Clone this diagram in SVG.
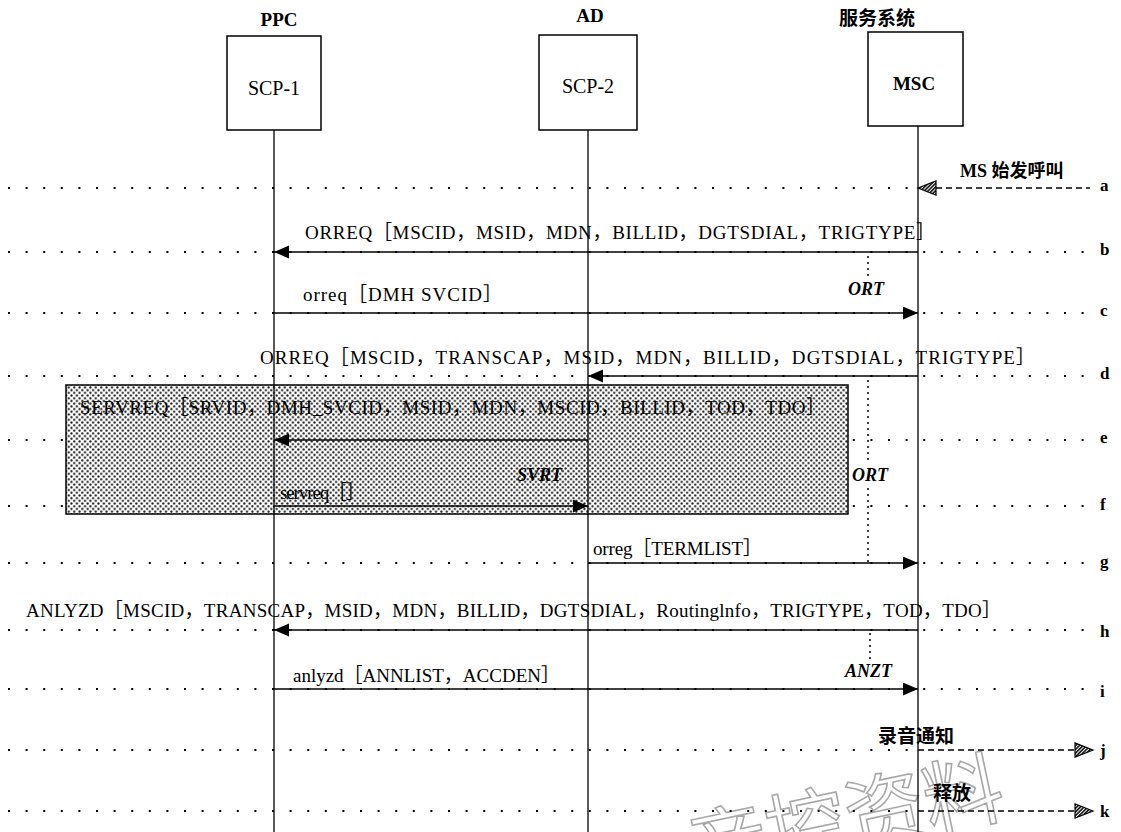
<svg xmlns="http://www.w3.org/2000/svg" width="1121" height="832" viewBox="0 0 1121 832">
<style>
.t{font-family:"Liberation Serif","Noto Sans CJK SC",serif;fill:#000}
.m{font-size:19px}
.cjk{font-family:"Noto Sans CJK SC",sans-serif;fill:#000}
.it{font-style:italic;font-weight:bold;font-size:18px}
.row{font-size:17px;font-weight:bold}
.ttl{font-size:19px;font-weight:bold}
.box{fill:#fff;stroke:#000;stroke-width:1.5}
.life{stroke:#000;stroke-width:1.3;fill:none}
.dot{stroke:#000;stroke-width:2;stroke-dasharray:2 15.6;fill:none}
.vdot{stroke:#000;stroke-width:1.5;stroke-dasharray:2 4;fill:none}
.dash{stroke:#000;stroke-width:1.3;stroke-dasharray:6 4;fill:none}
.msg{stroke:#000;stroke-width:1.6;fill:none;marker-end:url(#ah)}
.hh{fill:url(#hatch);stroke:#000;stroke-width:1.2}
</style>
<defs>
<marker id="ah" markerUnits="userSpaceOnUse" markerWidth="16" markerHeight="14" refX="15" refY="6.5" orient="auto">
<path d="M0,0 L15,6.5 L0,13 Z" fill="#000"/>
</marker>
<pattern id="hatch" patternUnits="userSpaceOnUse" width="2.6" height="2.6" patternTransform="rotate(45)">
<rect width="2.6" height="2.6" fill="#fff"/>
<line x1="0.8" y1="0" x2="0.8" y2="2.6" stroke="#000" stroke-width="1.5"/>
</pattern>
<pattern id="dots" patternUnits="userSpaceOnUse" width="5.4" height="5.4">
<rect width="5.4" height="5.4" fill="#fff"/>
<circle cx="1.3" cy="1.3" r="1.1" fill="#111"/>
<circle cx="4" cy="4" r="1.1" fill="#111"/>
</pattern>
</defs>
<rect width="1121" height="832" fill="#fff"/>

<!-- watermark -->
<text class="cjk" x="1008" y="814" text-anchor="end" font-size="80" stroke="#a8a8a8" stroke-width="1.6" style="fill:none" transform="rotate(-12 1008 814)">音控资料</text>

<!-- row guide dotted lines -->
<g id="rows">
<line class="dot" x1="8" y1="188" x2="910" y2="188"/>
<line class="dot" x1="8" y1="252" x2="1090" y2="252"/>
<line class="dot" x1="8" y1="313" x2="1090" y2="313"/>
<line class="dot" x1="8" y1="376" x2="1090" y2="376"/>
<line class="dot" x1="8" y1="440" x2="1090" y2="440"/>
<line class="dot" x1="8" y1="506" x2="1090" y2="506"/>
<line class="dot" x1="8" y1="563" x2="1090" y2="563"/>
<line class="dot" x1="8" y1="630" x2="1090" y2="630"/>
<line class="dot" x1="8" y1="689" x2="1090" y2="689"/>
<line class="dot" x1="8" y1="750" x2="918" y2="750"/>
<line class="dot" x1="8" y1="811" x2="918" y2="811"/>
</g>

<!-- shaded region -->
<g id="region">
<rect x="66" y="385" width="782" height="129" fill="url(#dots)" stroke="#000" stroke-width="1.5"/>
</g>

<!-- nodes -->
<g id="ppc">
<text class="t ttl" x="279" y="26" text-anchor="middle">PPC</text>
<rect class="box" x="227" y="36" width="94" height="94"/>
<text class="t" x="274" y="95" font-size="20" text-anchor="middle">SCP-1</text>
<line class="life" x1="274" y1="130" x2="274" y2="832"/>
</g>
<g id="ad">
<text class="t ttl" x="590" y="22" text-anchor="middle">AD</text>
<rect class="box" x="539" y="35" width="98" height="95"/>
<text class="t" x="588" y="93" font-size="20" text-anchor="middle">SCP-2</text>
<line class="life" x1="588" y1="130" x2="588" y2="832"/>
</g>
<g id="msc">
<text class="cjk" x="877" y="25" font-size="19" font-weight="bold" text-anchor="middle">服务系统</text>
<rect class="box" x="868" y="32" width="95" height="94"/>
<text class="t" x="914" y="90" font-size="19" font-weight="bold" text-anchor="middle">MSC</text>
<line class="life" x1="918" y1="126" x2="918" y2="832"/>
</g>

<!-- connectors -->
<g id="connectors">
<line class="dash" x1="936" y1="188" x2="1090" y2="188"/>
<polygon class="hh" points="918,188 936,181 936,195"/>
<line class="msg" x1="918" y1="252" x2="274" y2="252"/>
<line class="msg" x1="274" y1="313" x2="918" y2="313"/>
<line class="msg" x1="918" y1="376" x2="588" y2="376"/>
<line class="msg" x1="588" y1="440" x2="274" y2="440"/>
<line class="msg" x1="274" y1="506" x2="588" y2="506"/>
<line class="msg" x1="588" y1="563" x2="918" y2="563"/>
<line class="msg" x1="918" y1="630" x2="274" y2="630"/>
<line class="msg" x1="274" y1="689" x2="918" y2="689"/>
<line class="dash" x1="918" y1="750" x2="1075" y2="750"/>
<polygon class="hh" points="1093,750 1075,743 1075,757"/>
<line class="dash" x1="918" y1="811" x2="1075" y2="811"/>
<polygon class="hh" points="1093,811 1075,804 1075,818"/>
<line class="vdot" x1="868" y1="256" x2="868" y2="280"/>
<line class="vdot" x1="868" y1="380" x2="868" y2="462"/>
<line class="vdot" x1="868" y1="488" x2="868" y2="563"/>
<line class="vdot" x1="870" y1="633" x2="870" y2="660"/>
</g>

<!-- labels -->
<g id="labels">
<text class="t" x="960" y="177" font-size="18" font-weight="bold">MS 始发呼叫</text>
<text class="t m" x="305" y="239" textLength="630" lengthAdjust="spacing">ORREQ［MSCID，MSID，MDN，BILLID，DGTSDIAL，TRIGTYPE］</text>
<text class="t it" x="848" y="295">ORT</text>
<text class="t m" x="303" y="301" textLength="199" lengthAdjust="spacing">orreq［DMH  SVCID］</text>
<text class="t m" x="260" y="364" textLength="775" lengthAdjust="spacing">ORREQ［MSCID，TRANSCAP，MSID，MDN，BILLID，DGTSDIAL，TRIGTYPE］</text>
<text class="t m" x="80" y="414" textLength="745" lengthAdjust="spacing">SERVREQ［SRVID，DMH_SVCID，MSID，MDN，MSCID，BILLID，TOD，TDO］</text>
<text class="t it" x="517" y="481">SVRT</text>
<text class="t it" x="852" y="481">ORT</text>
<text class="t m" x="280" y="499" font-size="17" textLength="85" lengthAdjust="spacing">servreq［］</text>
<text class="t m" x="593" y="555" textLength="169" lengthAdjust="spacing">orreg［TERMLIST］</text>
<text class="t m" x="26" y="617" textLength="975" lengthAdjust="spacing">ANLYZD［MSCID，TRANSCAP，MSID，MDN，BILLID，DGTSDIAL，Routinglnfo，TRIGTYPE，TOD，TDO］</text>
<text class="t it" x="845" y="677">ANZT</text>
<text class="t m" x="293" y="682" textLength="267" lengthAdjust="spacing">anlyzd［ANNLIST，ACCDEN］</text>
<text class="cjk" x="878" y="743" font-size="19" font-weight="bold">录音通知</text>
<text class="cjk" x="933" y="800" font-size="19" font-weight="bold">释放</text>
</g>

<!-- row letters -->
<g id="rowletters">
<text class="t row" x="1100" y="191">a</text>
<text class="t row" x="1100" y="255">b</text>
<text class="t row" x="1100" y="316">c</text>
<text class="t row" x="1100" y="379">d</text>
<text class="t row" x="1100" y="443">e</text>
<text class="t row" x="1100" y="510">f</text>
<text class="t row" x="1100" y="567">g</text>
<text class="t row" x="1100" y="637">h</text>
<text class="t row" x="1100" y="697">i</text>
<text class="t row" x="1100" y="756">j</text>
<text class="t row" x="1100" y="817">k</text>
</g>
</svg>
